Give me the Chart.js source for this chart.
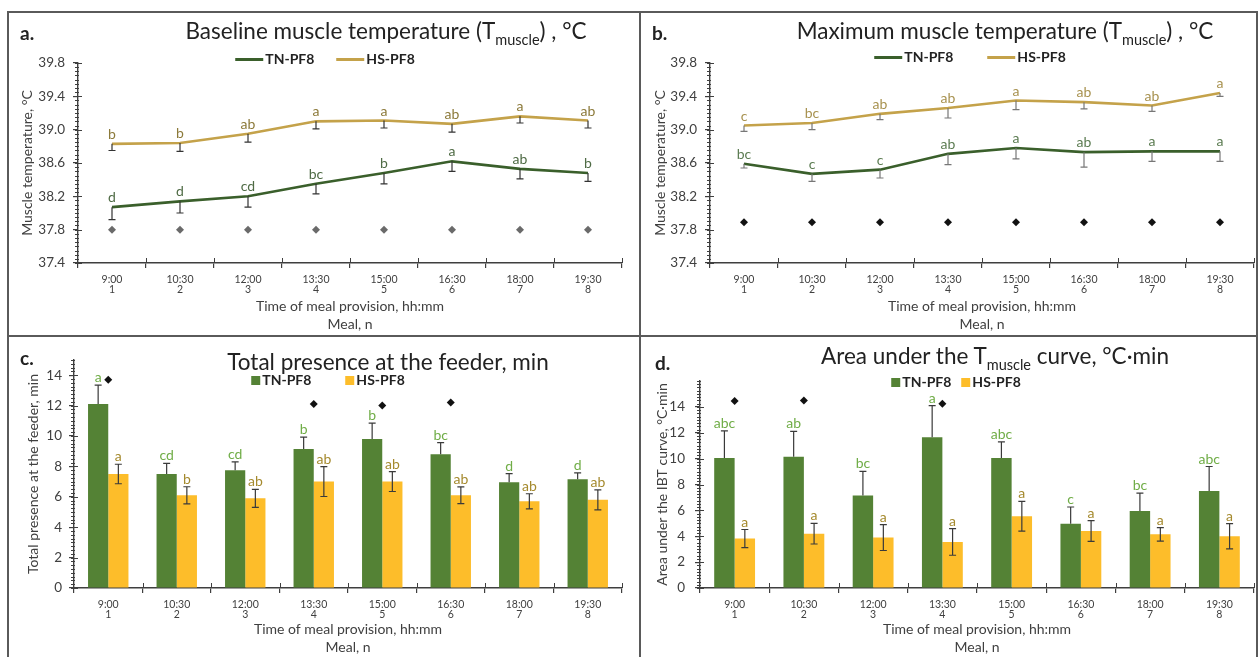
<!DOCTYPE html>
<html>
<head>
<meta charset="utf-8">
<script src="https://cdn.jsdelivr.net/npm/chart.js@4.4.1/dist/chart.umd.min.js"></script>
<style>
body { margin: 0; background: #fff; font-family: Lato, sans-serif; }
#wrap { position: relative; width: 1258px; height: 657px; overflow: hidden; background: #fff; }
.cv { position: absolute; }
.line { position: absolute; background: #5a5a5a; }
.title { position: absolute; white-space: nowrap; font-size: 22.5px; line-height: 28px; color: #222; transform: translateX(-50%); }
.title sub { font-size: 14.5px; vertical-align: -6px; line-height: 0; }
.tag { position: absolute; font-weight: bold; font-size: 19px; color: #222; line-height: 22px; }
.legend { position: absolute; display: flex; align-items: center; transform: translateX(-50%); white-space: nowrap;
  font-weight: bold; font-size: 14px; color: #222; line-height: 16px; }
.legend .ln { display: inline-block; width: 28px; height: 3px; margin-right: 2px; }
.legend .sq { display: inline-block; width: 9px; height: 9px; margin-right: 2px; }
</style>
</head>
<body>
<div id="wrap">
  <div class="line" style="left:8px;top:11px;width:1250px;height:2px"></div>
  <div class="line" style="left:7px;top:11px;width:2px;height:646px"></div>
  <div class="line" style="left:639px;top:11px;width:2px;height:646px"></div>
  <div class="line" style="left:8px;top:335px;width:1250px;height:2px"></div>
  <div class="line" style="left:1256px;top:11px;width:2px;height:646px"></div>

  <canvas id="chartA" class="cv" width="632" height="324" style="left:8px;top:12px"></canvas>
  <canvas id="chartB" class="cv" width="618" height="324" style="left:640px;top:12px"></canvas>
  <canvas id="chartC" class="cv" width="632" height="321" style="left:8px;top:336px"></canvas>
  <canvas id="chartD" class="cv" width="618" height="321" style="left:640px;top:336px"></canvas>

  <div class="tag" style="left:20px;top:22px">a.</div>
  <div class="tag" style="left:652px;top:22px">b.</div>
  <div class="tag" style="left:20px;top:347px">c.</div>
  <div class="tag" style="left:655px;top:352px">d.</div>

  <div class="title" style="left:386px;top:17px">Baseline muscle temperature (T<sub>muscle</sub>) , °C</div>
  <div class="title" style="left:1005px;top:17px">Maximum muscle temperature (T<sub>muscle</sub>) , °C</div>
  <div class="title" style="left:388px;top:348px">Total presence at the feeder, min</div>
  <div class="title" style="left:995px;top:342px">Area under the T<sub>muscle</sub> curve, °C·min</div>

  <div class="legend" style="left:325px;top:51px"><span class="ln" style="background:#3a5f2b"></span>TN-PF8<span class="ln" style="background:#c4a24a;margin-left:22px"></span>HS-PF8</div>
  <div class="legend" style="left:970px;top:49px"><span class="ln" style="background:#3a5f2b"></span>TN-PF8<span class="ln" style="background:#c4a24a;margin-left:34px"></span>HS-PF8</div>
  <div class="legend" style="left:328px;top:372px"><span class="sq" style="background:#548235"></span>TN-PF8<span class="sq" style="background:#fdbd2a;margin-left:34px"></span>HS-PF8</div>
  <div class="legend" style="left:956px;top:374px"><span class="sq" style="background:#548235"></span>TN-PF8<span class="sq" style="background:#fdbd2a;margin-left:10px"></span>HS-PF8</div>
</div>

<script>
// categories
const mealTimes = ['9:00', '10:30', '12:00', '13:30', '15:00', '16:30', '18:00', '19:30'];
const mealNumbers = ['1', '2', '3', '4', '5', '6', '7', '8'];
const seriesNames = ['TN-PF8', 'HS-PF8'];

// tick labels
const tempTicks = [37.4, 37.8, 38.2, 38.6, 39.0, 39.4, 39.8];
const barTicks = [0, 2, 4, 6, 8, 10, 12, 14];

// a. baseline muscle temperature
const baseTN = [38.07, 38.14, 38.20, 38.35, 38.48, 38.62, 38.53, 38.48];
const baseTNErr = [0.15, 0.14, 0.13, 0.12, 0.13, 0.12, 0.12, 0.10];
const baseTNLetters = ['d', 'd', 'cd', 'bc', 'b', 'a', 'ab', 'b'];
const baseHS = [38.83, 38.84, 38.95, 39.10, 39.11, 39.07, 39.16, 39.11];
const baseHSErr = [0.08, 0.10, 0.10, 0.09, 0.09, 0.10, 0.08, 0.09];
const baseHSLetters = ['b', 'b', 'ab', 'a', 'a', 'ab', 'a', 'ab'];
const baseDiff = [37.8, 37.8, 37.8, 37.8, 37.8, 37.8, 37.8, 37.8];

// b. maximum muscle temperature
const maxTN = [38.59, 38.47, 38.52, 38.71, 38.78, 38.73, 38.74, 38.74];
const maxTNErr = [0.05, 0.09, 0.10, 0.13, 0.13, 0.18, 0.12, 0.12];
const maxTNLetters = ['bc', 'c', 'c', 'ab', 'a', 'ab', 'a', 'a'];
const maxHS = [39.05, 39.08, 39.19, 39.26, 39.35, 39.33, 39.29, 39.44];
const maxHSErr = [0.07, 0.08, 0.07, 0.12, 0.11, 0.08, 0.07, 0.04];
const maxHSLetters = ['c', 'bc', 'ab', 'ab', 'a', 'ab', 'ab', 'a'];
const maxDiff = [37.89, 37.89, 37.89, 37.89, 37.89, 37.89, 37.89, 37.89];

// c. total presence at the feeder
const presTN = [12.1, 7.5, 7.75, 9.15, 9.8, 8.8, 6.95, 7.15];
const presTNErr = [1.25, 0.7, 0.55, 0.77, 1.05, 0.76, 0.57, 0.42];
const presTNLetters = ['a', 'cd', 'cd', 'b', 'b', 'bc', 'd', 'd'];
const presHS = [7.5, 6.1, 5.9, 7.0, 7.0, 6.1, 5.7, 5.8];
const presHSErr = [0.64, 0.56, 0.59, 0.98, 0.65, 0.55, 0.5, 0.66];
const presHSLetters = ['a', 'b', 'ab', 'ab', 'ab', 'ab', 'ab', 'ab'];
const presDiff = [13.7, null, null, 12.1, 12.0, 12.2, null, null];

// d. area under the curve
const aucTN = [10.05, 10.15, 7.15, 11.65, 10.05, 4.97, 5.95, 7.5];
const aucTNErr = [2.1, 1.95, 1.87, 2.44, 1.25, 1.29, 1.38, 1.89];
const aucTNLetters = ['abc', 'ab', 'bc', 'a', 'abc', 'c', 'bc', 'abc'];
const aucHS = [3.82, 4.2, 3.9, 3.56, 5.55, 4.41, 4.15, 4.0];
const aucHSErr = [0.7, 0.8, 1.0, 1.03, 1.15, 0.8, 0.52, 0.97];
const aucHSLetters = ['a', 'a', 'a', 'a', 'a', 'a', 'a', 'a'];
const aucDiff = [14.45, 14.5, null, 14.25, null, null, null, null];

const FONT = 'Lato';
const AX = '#3f3f3f';
const TXT = '#404040';
const labels = mealTimes.map((t, i) => [t, mealNumbers[i]]);

// error bars, letters, minor ticks
const extras = {
  id: 'extras',
  afterDatasetsDraw(chart) {
    const ctx = chart.ctx, ys = chart.scales.y;
    chart.data.datasets.forEach((ds, i) => {
      if (!ds.err) return;
      const meta = chart.getDatasetMeta(i);
      meta.data.forEach((el, j) => {
        const v = ds.data[j], e = ds.err[j], x = el.x;
        const yv = ys.getPixelForValue(v);
        const yUp = ys.getPixelForValue(v + e);
        const yDn = ys.getPixelForValue(v - e);
        const cap = 3.5;
        ctx.save();
        ctx.strokeStyle = ds.errColor;
        ctx.lineWidth = 1.2;
        ctx.beginPath();
        if (ds.errDir !== 'down') {
          ctx.moveTo(x, yv); ctx.lineTo(x, yUp);
          ctx.moveTo(x - cap, yUp); ctx.lineTo(x + cap, yUp);
        }
        if (ds.errDir !== 'up') {
          ctx.moveTo(x, yv); ctx.lineTo(x, yDn);
          ctx.moveTo(x - cap, yDn); ctx.lineTo(x + cap, yDn);
        }
        ctx.stroke();
        const top = ds.errDir === 'down' ? yv : yUp;
        ctx.fillStyle = ds.letterColor;
        ctx.font = '14px ' + FONT;
        ctx.textAlign = 'center';
        ctx.textBaseline = 'alphabetic';
        ctx.fillText(ds.letters[j], x, top - ds.letterGap);
        ctx.restore();
      });
    });
  },
  afterDraw(chart, args, opts) {
    const ctx = chart.ctx, ys = chart.scales.y, xs = chart.scales.x;
    ctx.save();
    ctx.strokeStyle = AX;
    ctx.lineWidth = 1;
    ctx.beginPath();
    const steps = Math.round((ys.max - ys.min) / opts.minor);
    for (let k = 0; k <= steps; k++) {
      const y = Math.round(ys.getPixelForValue(ys.min + k * opts.minor)) + 0.5;
      ctx.moveTo(ys.right - 3, y);
      ctx.lineTo(ys.right + 1, y);
    }
    ys.ticks.forEach(t => {
      const y = Math.round(ys.getPixelForValue(t.value)) + 0.5;
      ctx.moveTo(ys.right, y);
      ctx.lineTo(ys.right + 4, y);
    });
    const n = chart.data.labels.length;
    for (let i = 1; i <= n; i++) {
      const x = Math.round(xs.left + i * xs.width / n) + 0.5;
      ctx.moveTo(x, xs.top);
      ctx.lineTo(x, xs.top - 5);
    }
    ctx.stroke();
    ctx.restore();
  }
};

function makeScales(o) {
  return {
    x: {
      offset: true,
      grid: { drawOnChartArea: false, drawTicks: true, tickLength: 5, offset: true, color: AX, lineWidth: 1.2 },
      border: { color: AX, width: 1.4 },
      ticks: { color: TXT, font: { family: FONT, size: 10.5, lineHeight: 1.0 }, padding: 6, maxRotation: 0, autoSkip: false },
      title: {
        display: true, text: ['Time of meal provision, hh:mm', 'Meal, n'], color: TXT,
        font: { family: FONT, size: 14, lineHeight: 1.3 }, padding: { top: 0, bottom: o.xTitlePad }
      },
      afterFit: s => { s.height = o.xH; }
    },
    y: {
      min: o.min, max: o.max,
      afterBuildTicks: s => { s.ticks = o.ticks.map(v => ({ value: v })); },
      grid: { drawOnChartArea: false, drawTicks: true, tickLength: 5, color: AX, lineWidth: 1.2 },
      border: { color: AX, width: 1.4 },
      ticks: { color: TXT, font: { family: FONT, size: 13.5 }, padding: o.tickPad, callback: o.fmt },
      title: {
        display: true, text: o.yTitle, color: TXT,
        font: { family: FONT, size: 14, lineHeight: 1.2 }, padding: { top: o.yTitlePad, bottom: 0 }
      },
      afterFit: s => { s.width = o.yW; }
    }
  };
}

const common = {
  responsive: false,
  animation: false,
  events: [],
  plugins: { legend: { display: false }, tooltip: { enabled: false } }
};

function lineSet(name, data, color, err, letters, letterColor, errColor) {
  return {
    type: 'line', label: name, data: data, borderColor: color, backgroundColor: color,
    borderWidth: 2.6, pointRadius: 0, tension: 0,
    err: err, errDir: 'down', errColor: errColor, letters: letters, letterColor: letterColor, letterGap: 5
  };
}
function diamondSet(data, color) {
  return {
    type: 'line', label: 'diff', data: data, showLine: false, pointStyle: 'rectRot',
    pointRadius: 4, backgroundColor: color, borderColor: color, borderWidth: 0
  };
}
function barSet(name, data, color, err, dir, letters, letterColor) {
  return {
    type: 'bar', label: name, data: data, backgroundColor: color,
    categoryPercentage: 0.59, barPercentage: 1.0,
    err: err, errDir: dir, errColor: '#3a3a3a', letters: letters, letterColor: letterColor, letterGap: 3
  };
}

const fmt1 = v => v.toFixed(1);
const fmt0 = v => String(v);

// a.
new Chart(document.getElementById('chartA'), {
  type: 'line',
  data: {
    labels: labels,
    datasets: [
      lineSet(seriesNames[0], baseTN, '#3a5f2b', baseTNErr, baseTNLetters, '#4f6b45', '#333'),
      lineSet(seriesNames[1], baseHS, '#c4a24a', baseHSErr, baseHSLetters, '#8c7a3a', '#333'),
      diamondSet(baseDiff, '#6a6a6a')
    ]
  },
  options: Object.assign({}, common, {
    layout: { padding: { left: 0, top: 51, right: 18, bottom: 0 } },
    scales: makeScales({ min: 37.4, max: 39.8, ticks: tempTicks, fmt: fmt1, yTitle: 'Muscle temperature, °C',
      yW: 70, xH: 73, yTitlePad: 11, xTitlePad: 2, tickPad: 8 }),
    plugins: Object.assign({}, common.plugins, { extras: { minor: 0.05 } })
  }),
  plugins: [extras]
});

// b.
new Chart(document.getElementById('chartB'), {
  type: 'line',
  data: {
    labels: labels,
    datasets: [
      lineSet(seriesNames[0], maxTN, '#3a5f2b', maxTNErr, maxTNLetters, '#5c7c52', '#777'),
      lineSet(seriesNames[1], maxHS, '#c4a24a', maxHSErr, maxHSLetters, '#a89250', '#777'),
      diamondSet(maxDiff, '#111')
    ]
  },
  options: Object.assign({}, common, {
    layout: { padding: { left: 0, top: 51, right: 4, bottom: 0 } },
    scales: makeScales({ min: 37.4, max: 39.8, ticks: tempTicks, fmt: fmt1, yTitle: 'Muscle temperature, °C',
      yW: 70, xH: 73, yTitlePad: 12, xTitlePad: 2, tickPad: 8 }),
    plugins: Object.assign({}, common.plugins, { extras: { minor: 0.05 } })
  }),
  plugins: [extras]
});

// c.
new Chart(document.getElementById('chartC'), {
  type: 'bar',
  data: {
    labels: labels,
    datasets: [
      barSet(seriesNames[0], presTN, '#548235', presTNErr, 'up', presTNLetters, '#70ad47'),
      barSet(seriesNames[1], presHS, '#fdbd2a', presHSErr, 'both', presHSLetters, '#a58a2e'),
      diamondSet(presDiff, '#111')
    ]
  },
  options: Object.assign({}, common, {
    layout: { padding: { left: 0, top: 24, right: 18, bottom: 0 } },
    scales: makeScales({ min: 0, max: 15, ticks: barTicks, fmt: fmt0, yTitle: 'Total presence at the feeder, min',
      yW: 66, xH: 69, yTitlePad: 17, xTitlePad: 0, tickPad: 7 }),
    plugins: Object.assign({}, common.plugins, { extras: { minor: 0.25 } })
  }),
  plugins: [extras]
});

// d.
new Chart(document.getElementById('chartD'), {
  type: 'bar',
  data: {
    labels: labels,
    datasets: [
      barSet(seriesNames[0], aucTN, '#548235', aucTNErr, 'up', aucTNLetters, '#70ad47'),
      barSet(seriesNames[1], aucHS, '#fdbd2a', aucHSErr, 'both', aucHSLetters, '#a58a2e'),
      diamondSet(aucDiff, '#111')
    ]
  },
  options: Object.assign({}, common, {
    layout: { padding: { left: 0, top: 45, right: 4, bottom: 0 } },
    scales: makeScales({ min: 0, max: 16, ticks: barTicks, fmt: fmt0, yTitle: 'Area under the IBT curve, °C·min',
      yW: 60, xH: 69, yTitlePad: 14, xTitlePad: 0, tickPad: 10 }),
    plugins: Object.assign({}, common.plugins, { extras: { minor: 0.25 } })
  }),
  plugins: [extras]
});
</script>
</body>
</html>
